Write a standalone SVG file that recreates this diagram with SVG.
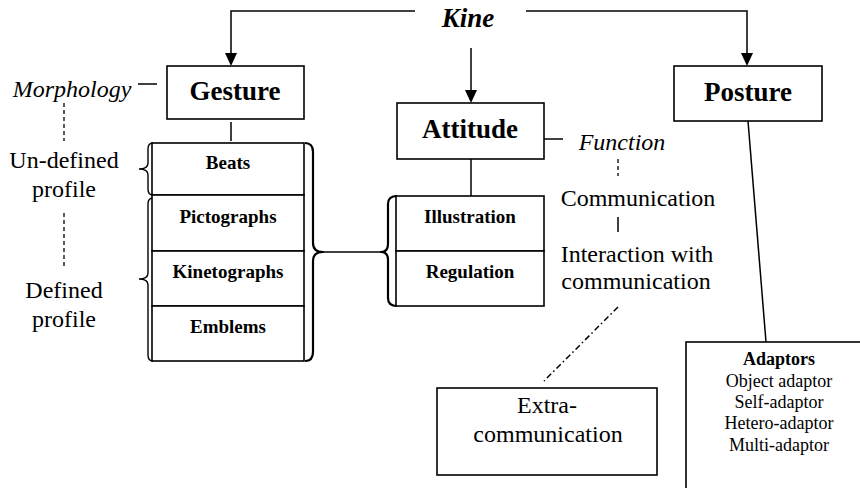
<svg xmlns="http://www.w3.org/2000/svg" width="860" height="488" viewBox="0 0 860 488">
<style>
.bx{fill:#fff;stroke:#000;stroke-width:1.6}
.ln{fill:none;stroke:#000;stroke-width:1.5}
.br{fill:none;stroke:#000;stroke-width:2.2;stroke-linejoin:round}
.brs{fill:none;stroke:#000;stroke-width:1.4}
.dash{fill:none;stroke:#000;stroke-width:1.3;stroke-dasharray:4,3}
.dd{fill:none;stroke:#000;stroke-width:1.5;stroke-dasharray:6,3,1.5,3}
text{font-family:"Liberation Serif","Times New Roman",serif;fill:#000;text-anchor:middle}
.h{font-size:27px;font-weight:bold}
.s{font-size:19px;font-weight:bold}
.m{font-size:24px}
.i{font-size:24px;font-style:italic}
.a{font-size:18px}
</style>
<defs>
<marker id="arr" markerWidth="12" markerHeight="14" refX="6" refY="14" orient="auto-start-reverse" markerUnits="userSpaceOnUse" viewBox="0 0 12 14">
<path d="M0,0 L12,0 L6,14 Z" fill="#000" transform="rotate(-90 6 7)"/>
</marker>
</defs>
<g id="connectors">
<polyline class="ln" points="415,11 231,11 231,54"/>
<polygon points="225,53 237,53 231,66" fill="#000"/>
<line class="ln" x1="471" y1="48" x2="471" y2="91"/>
<polygon points="465,90 477,90 471,103" fill="#000"/>
<polyline class="ln" points="526,11 747,11 747,54"/>
<polygon points="741,53 753,53 747,66" fill="#000"/>
<line class="ln" x1="231" y1="122" x2="231" y2="141"/>
<line class="ln" x1="471" y1="159" x2="471" y2="196"/>
<line class="ln" x1="138" y1="84" x2="157" y2="84"/>
<line class="ln" x1="544" y1="139" x2="563" y2="139"/>
<line class="dash" x1="64" y1="103" x2="64" y2="141"/>
<line class="dash" x1="64" y1="213" x2="64" y2="269"/>
<line class="dash" x1="618" y1="159" x2="618" y2="176"/>
<line class="ln" x1="618" y1="217" x2="618" y2="232"/>
<line class="dd" x1="618" y1="307" x2="544" y2="381"/>
<line class="ln" x1="748" y1="121" x2="766" y2="342"/>
<line class="ln" x1="323" y1="252" x2="382" y2="252"/>
<path class="brs" d="M153,143 Q148,143 148,149 L148,163 Q148,169 139,169 Q148,169 148,175 L148,189 Q148,195 153,195"/>
<path class="brs" d="M153,198 Q148,198 148,204 L148,273 Q148,279 139,279 Q148,279 148,285 L148,355 Q148,361 153,361"/>
<path class="br" d="M305,143 Q313,143 313,152 L313,243 Q313,252 323,252 Q313,252 313,261 L313,352 Q313,361 305,361"/>
<path class="br" d="M397,196 Q388,196 388,204 L388,244 Q388,252 381,252 Q388,252 388,260 L388,298 Q388,306 397,306"/>
</g>
<g id="kine"><text class="h" x="468" y="27" font-style="italic">Kine</text></g>
<g id="gesture"><rect class="bx" x="167" y="66" width="137" height="53"/><text class="h" x="235" y="100">Gesture</text></g>
<g id="attitude"><rect class="bx" x="397" y="103" width="147" height="56"/><text class="h" x="470" y="138">Attitude</text></g>
<g id="posture"><rect class="bx" x="674" y="66" width="148" height="55"/><text class="h" x="748" y="101">Posture</text></g>
<g id="morphology"><text class="i" x="72" y="97">Morphology</text></g>
<g id="undefined"><text class="m" x="64" y="168">Un-defined</text><text class="m" x="64" y="197">profile</text></g>
<g id="defined"><text class="m" x="64" y="298">Defined</text><text class="m" x="64" y="327">profile</text></g>
<g id="gesture-types">
<rect class="bx" x="152" y="143" width="152" height="52"/>
<rect class="bx" x="152" y="195" width="152" height="56"/>
<rect class="bx" x="152" y="251" width="152" height="55"/>
<rect class="bx" x="152" y="306" width="152" height="55"/>
<text class="s" x="228" y="169">Beats</text>
<text class="s" x="228" y="223">Pictographs</text>
<text class="s" x="228" y="278">Kinetographs</text>
<text class="s" x="228" y="333">Emblems</text>
</g>
<g id="attitude-types">
<rect class="bx" x="396" y="196" width="148" height="55"/>
<rect class="bx" x="396" y="251" width="148" height="55"/>
<text class="s" x="470" y="223">Illustration</text>
<text class="s" x="470" y="278">Regulation</text>
</g>
<g id="function"><text class="i" x="622" y="150">Function</text></g>
<g id="communication"><text class="m" x="638" y="206">Communication</text></g>
<g id="interaction"><text class="m" x="637" y="262">Interaction with</text><text class="m" x="636" y="289">communication</text></g>
<g id="extra"><rect class="bx" x="437" y="388" width="220" height="87"/><text class="m" x="547" y="413">Extra-</text><text class="m" x="548" y="442">communication</text></g>
<g id="adaptors"><rect class="bx" x="686" y="342" width="200" height="160"/>
<text class="a" x="779" y="365" font-weight="bold">Adaptors</text>
<text class="a" x="779" y="387">Object adaptor</text>
<text class="a" x="779" y="408">Self-adaptor</text>
<text class="a" x="779" y="429">Hetero-adaptor</text>
<text class="a" x="779" y="451">Multi-adaptor</text>
</g>
</svg>
